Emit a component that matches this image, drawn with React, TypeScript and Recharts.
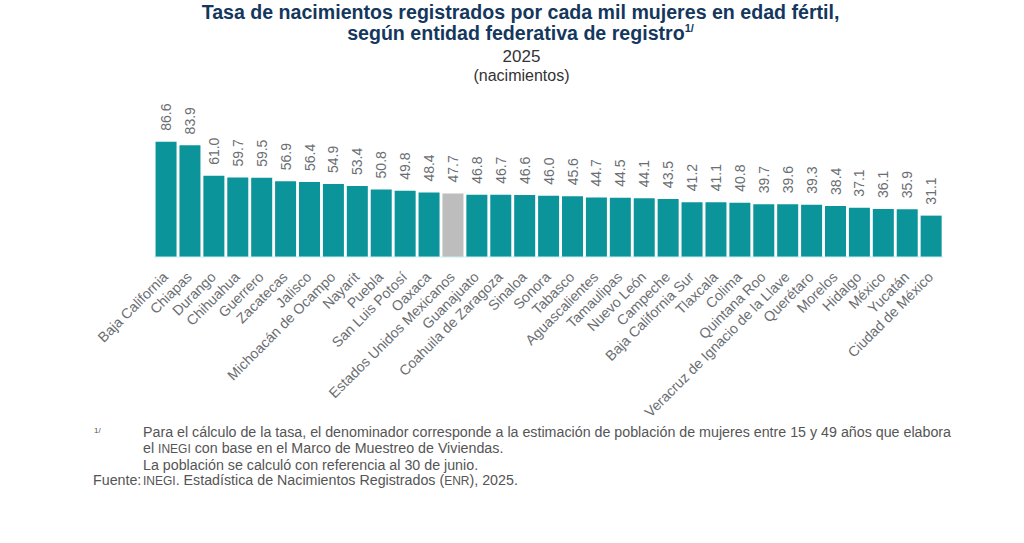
import { Bar, BarChart, Cell, LabelList, XAxis, YAxis } from "recharts"

const estados = [
  "Baja California", "Chiapas", "Durango", "Chihuahua", "Guerrero", "Zacatecas", "Jalisco",
  "Michoacán de Ocampo", "Nayarit", "Puebla", "San Luis Potosí", "Oaxaca", "Estados Unidos Mexicanos",
  "Guanajuato", "Coahuila de Zaragoza", "Sinaloa", "Sonora", "Tabasco", "Aguascalientes", "Tamaulipas",
  "Nuevo León", "Campeche", "Baja California Sur", "Tlaxcala", "Colima", "Quintana Roo",
  "Veracruz de Ignacio de la Llave", "Querétaro", "Morelos", "Hidalgo", "México", "Yucatán", "Ciudad de México",
]

const tasas = [
  86.6, 83.9, 61.0, 59.7, 59.5, 56.9, 56.4, 54.9, 53.4, 50.8, 49.8, 48.4, 47.7, 46.8, 46.7, 46.6, 46.0,
  45.6, 44.7, 44.5, 44.1, 43.5, 41.2, 41.1, 40.8, 39.7, 39.6, 39.3, 38.4, 37.1, 36.1, 35.9, 31.1,
]

const nacional = "Estados Unidos Mexicanos"

const data = estados.map((name, i) => ({ name, tasa: tasas[i] }))

const font = "'Liberation Sans', Arial, sans-serif"

function EstadoTick({ x, y, payload }: any) {
  return (
    <text
      x={x + 3}
      y={y + 13}
      transform={`rotate(-45 ${x + 3} ${y + 13})`}
      textAnchor="end"
      fontSize={14.2}
      fontFamily={font}
      fill="#6a6e72"
    >
      {payload.value}
    </text>
  )
}

function TasaLabel({ x, y, width, value }: any) {
  const cx = x + width / 2 + 5
  const cy = y - 11
  return (
    <text transform={`rotate(-90 ${cx} ${cy})`} x={cx} y={cy} fontSize={14} fontFamily={font} fill="#6a6e72">
      {Number(value).toFixed(1)}
    </text>
  )
}

const textBase = { position: "absolute", fontFamily: font, whiteSpace: "nowrap" } as const

export default function App() {
  return (
    <div style={{ position: "absolute", left: 0, top: 0, width: 1024, height: 543, background: "#fff", overflow: "hidden" }}>
      <div style={{ ...textBase, left: 0, width: 1041, top: 2, textAlign: "center", fontSize: 19.6, fontWeight: 700, lineHeight: "21px", color: "#14375e" }}>
        Tasa de nacimientos registrados por cada mil mujeres en edad fértil,
        <br />
        según entidad federativa de registro
        <sup style={{ fontSize: 11, lineHeight: 0 }}>1/</sup>
      </div>
      <div style={{ ...textBase, left: 0, width: 1043, top: 47, textAlign: "center", fontSize: 17, color: "#333" }}>2025</div>
      <div style={{ ...textBase, left: 0, width: 1043, top: 67, textAlign: "center", fontSize: 16, color: "#333" }}>(nacimientos)</div>

      <BarChart
        width={1024}
        height={543}
        data={data}
        margin={{ top: 100, right: 81, bottom: 0, left: 154 }}
        barCategoryGap="6.5%"
      >
        <XAxis
          dataKey="name"
          interval={0}
          height={286}
          tick={<EstadoTick />}
          tickLine={false}
          axisLine={{ stroke: "#c9eef0" }}
        />
        <YAxis hide domain={[0, 118]} />
        <Bar dataKey="tasa" isAnimationActive={false} fill="#0b9499">
          {data.map((d) => (
            <Cell key={d.name} fill={d.name === nacional ? "#bdbdbd" : "#0b9499"} />
          ))}
          <LabelList dataKey="tasa" content={<TasaLabel />} />
        </Bar>
      </BarChart>

      <div style={{ ...textBase, left: 94, top: 426, fontSize: 8, color: "#555" }}>1/</div>
      <div style={{ ...textBase, left: 143, top: 424, fontSize: 14.25, lineHeight: "16px", color: "#555" }}>
        Para el cálculo de la tasa, el denominador corresponde a la estimación de población de mujeres entre 15 y 49 años que elabora
        <br />
        el <span style={{ fontSize: 12 }}>INEGI</span> con base en el Marco de Muestreo de Viviendas.
        <br />
        La población se calculó con referencia al 30 de junio.
      </div>
      <div style={{ ...textBase, left: 93, top: 472, fontSize: 14.25, lineHeight: "16px", color: "#555" }}>
        Fuente:
      </div>
      <div style={{ ...textBase, left: 143, top: 472, fontSize: 14.25, lineHeight: "16px", color: "#555" }}>
        <span style={{ fontSize: 12 }}>INEGI</span>. Estadística de Nacimientos Registrados (<span style={{ fontSize: 12 }}>ENR</span>), 2025.
      </div>
    </div>
  )
}
